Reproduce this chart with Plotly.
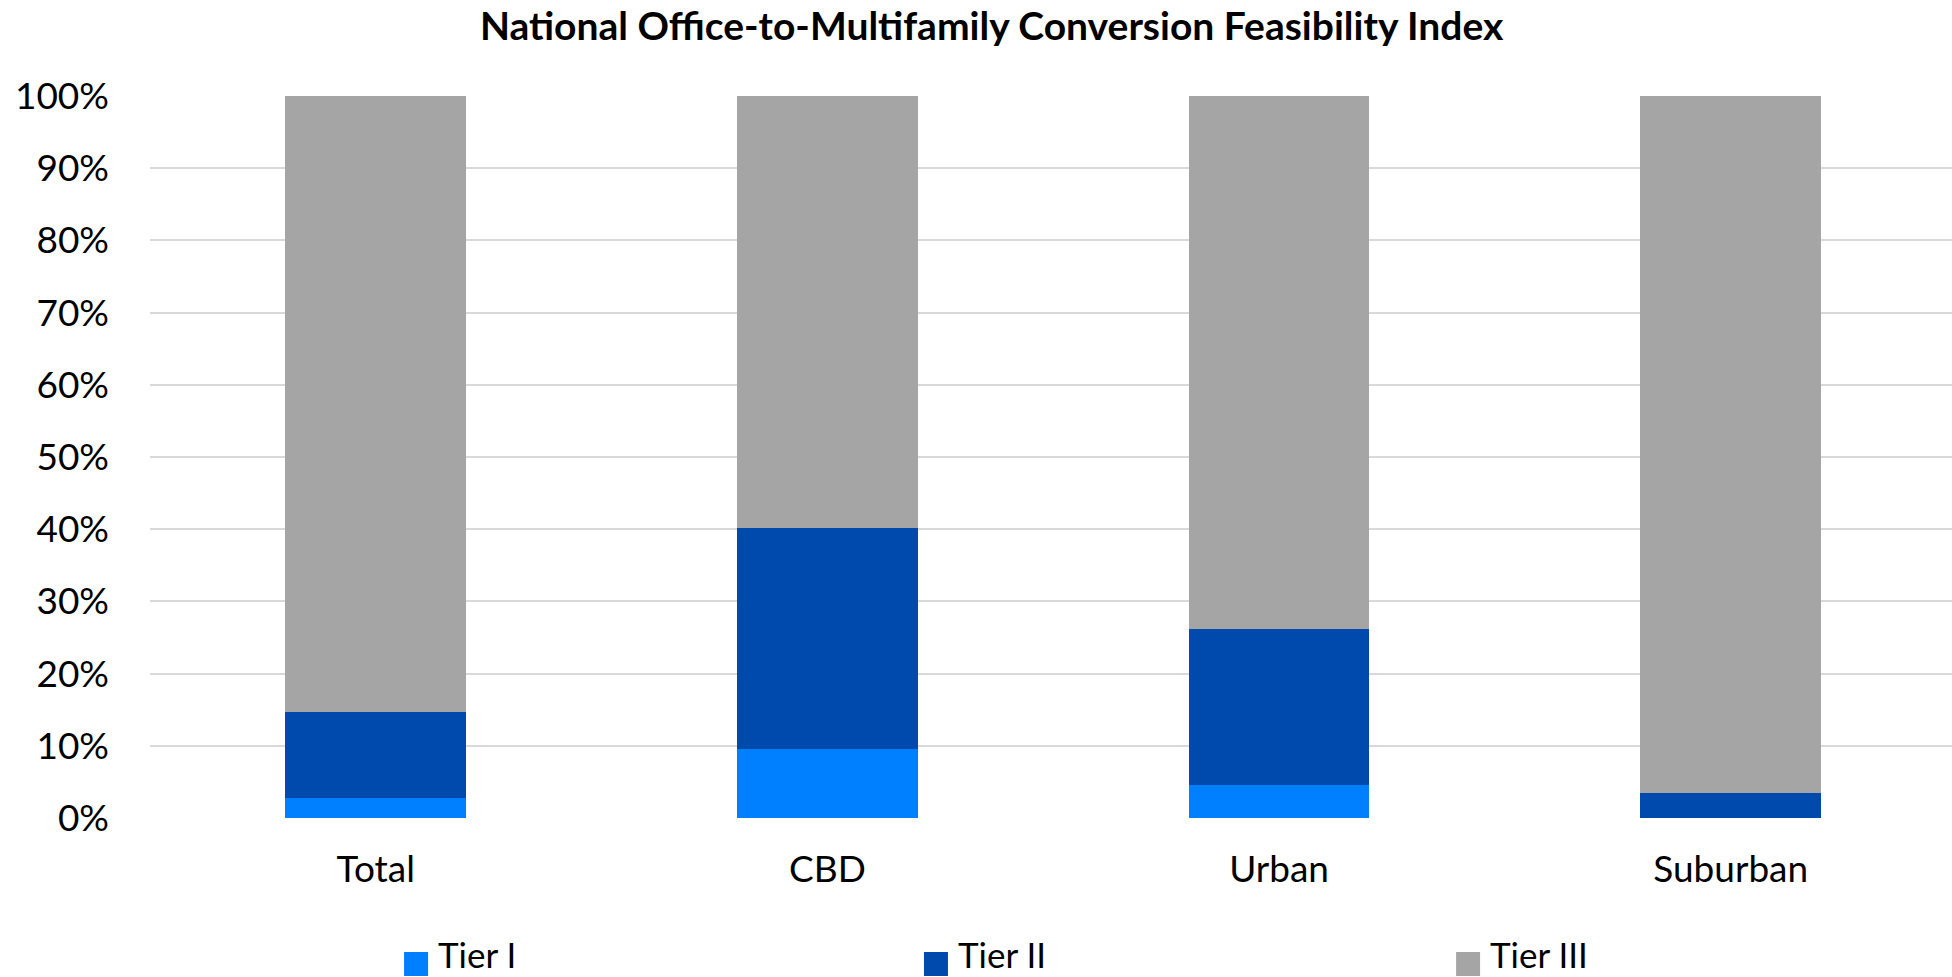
import plotly.graph_objects as go

# Share of office stock by conversion tier (%)
categories = ["Total", "CBD", "Urban", "Suburban"]
tier_names = ["Tier I", "Tier II", "Tier III"]
tier_1 = [2.8, 9.5, 4.6, 0.0]
tier_2 = [11.9, 30.7, 21.6, 3.4]
tier_3 = [85.3, 59.8, 73.8, 96.6]
tick_values = [0, 10, 20, 30, 40, 50, 60, 70, 80, 90, 100]
tick_labels = ["0%", "10%", "20%", "30%", "40%", "50%", "60%", "70%", "80%", "90%", "100%"]

colors = ["#0080FF", "#004AAD", "#A5A5A5"]
FONT = "Lato, 'Open Sans', sans-serif"

fig = go.Figure()
for name, vals, col in zip(tier_names, [tier_1, tier_2, tier_3], colors):
    fig.add_trace(go.Bar(
        x=categories, y=vals, name=name,
        marker=dict(color=col, line=dict(width=0)),
        showlegend=False,
        hovertemplate="%{x}<br>" + name + ": %{y:.1f}%<extra></extra>",
    ))

# Legend row drawn beneath the axis: square swatch followed by its label
PLOT_W, PLOT_H = 1802, 722
legend_x = [0.141, 0.4295, 0.7248]   # left edge of each swatch, paper units
sw_w = 24 / PLOT_W
sw_top, sw_bot = -134 / PLOT_H, -158 / PLOT_H
text_y = -136 / PLOT_H
for lx, name, col in zip(legend_x, tier_names, colors):
    fig.add_shape(type="rect", xref="paper", yref="paper",
                  x0=lx, x1=lx + sw_w, y0=sw_bot, y1=sw_top,
                  fillcolor=col, line=dict(width=0), layer="above")
    fig.add_annotation(xref="paper", yref="paper", x=lx + sw_w + 8 / PLOT_W,
                       y=text_y, text=name, showarrow=False,
                       xanchor="left", yanchor="middle",
                       font=dict(family=FONT, size=35, color="#000000"))

fig.update_layout(
    barmode="stack",
    bargap=0.6,
    width=1952, height=977,
    margin=dict(l=150, r=0, t=96, b=159, autoexpand=False),
    paper_bgcolor="white", plot_bgcolor="white",
    title=dict(text="<b>National Office-to-Multifamily Conversion Feasibility Index</b>",
               x=0.508, xref="container", xanchor="center",
               y=0.987, yref="container", yanchor="top",
               font=dict(family=FONT, size=39, color="#000000")),
    font=dict(family=FONT, size=37, color="#000000"),
    xaxis=dict(type="category", range=[-0.5, 3.49], showgrid=False, showline=False,
               zeroline=False, ticks="", ticklabelstandoff=26,
               tickfont=dict(family=FONT, size=37, color="#000000")),
    yaxis=dict(range=[0, 100], tickvals=tick_values, ticktext=tick_labels,
               showgrid=True, gridcolor="#D9D9D9", gridwidth=1.5,
               zeroline=False, showline=False, ticks="", ticklabelstandoff=40,
               tickfont=dict(family=FONT, size=37, color="#000000")),
)

fig.write_html("out.html")
